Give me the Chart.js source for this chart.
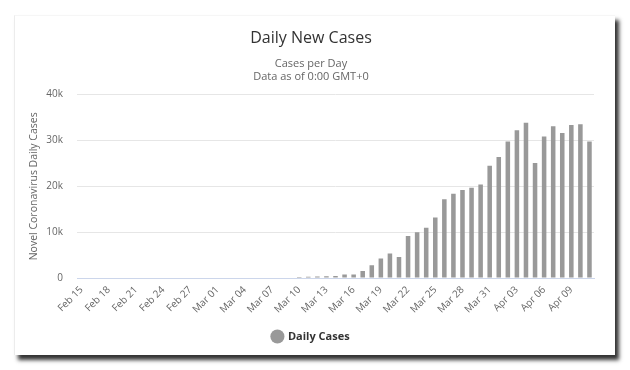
<!DOCTYPE html>
<html>
<head>
<meta charset="utf-8">
<script src="https://cdn.jsdelivr.net/npm/chart.js@4"></script>
<style>
  html, body { margin: 0; padding: 0; background: #fff; width: 630px; height: 370px; overflow: hidden; }
  #frame { position: absolute; left: 14px; top: 15px; width: 600px; height: 339px; background: #fff;
           border-left: 1px solid #ececec; border-top: 1px solid #f6f6f6;
           box-shadow: 4px 5px 4px rgba(0,0,0,0.8); }
  #c { position: absolute; left: 0; top: 0; }
</style>
</head>
<body>
<div id="frame"></div>
<canvas id="c" width="630" height="370"></canvas>
<script>
const categories = [
  "Feb 15","Feb 16","Feb 17","Feb 18","Feb 19","Feb 20","Feb 21","Feb 22","Feb 23","Feb 24",
  "Feb 25","Feb 26","Feb 27","Feb 28","Feb 29",
  "Mar 01","Mar 02","Mar 03","Mar 04","Mar 05","Mar 06","Mar 07","Mar 08","Mar 09","Mar 10",
  "Mar 11","Mar 12","Mar 13","Mar 14","Mar 15","Mar 16","Mar 17","Mar 18","Mar 19","Mar 20",
  "Mar 21","Mar 22","Mar 23","Mar 24","Mar 25","Mar 26","Mar 27","Mar 28","Mar 29","Mar 30",
  "Mar 31","Apr 01","Apr 02","Apr 03","Apr 04","Apr 05","Apr 06","Apr 07","Apr 08","Apr 09",
  "Apr 10","Apr 11"
];
const dailyCases = [
  0,0,0,0,0,0,0,0,0,0,
  0,0,0,0,0,
  0,0,0,0,0,0,0,0,0,200,
  250,300,400,450,750,750,1500,2800,4250,5350,
  4600,9150,10000,10950,13200,17200,18350,19200,19700,20400,
  24500,26400,29750,32200,33850,25100,30850,33100,31650,33350,
  33550,29750
];
const yTicks = [0, 10000, 20000, 30000, 40000];
const yTickLabels = ["0", "10k", "20k", "30k", "40k"];

const FONT = "'Open Sans', 'DejaVu Sans', sans-serif";

new Chart(document.getElementById('c'), {
  type: 'bar',
  data: {
    labels: categories,
    datasets: [{
      label: 'Daily Cases',
      data: dailyCases,
      backgroundColor: '#999999',
      borderWidth: 0,
      barPercentage: 0.5,
      categoryPercentage: 1.0
    }]
  },
  options: {
    responsive: false,
    animation: false,
    devicePixelRatio: 1,
    layout: { padding: { left: 28, right: 36, top: 0, bottom: 18 } },
    plugins: {
      title: {
        display: true,
        text: 'Daily New Cases',
        color: '#333333',
        font: { family: FONT, size: 16, weight: 'normal' },
        padding: { top: 29, bottom: 9 }
      },
      subtitle: {
        display: true,
        text: ['Cases per Day', 'Data as of 0:00 GMT+0'],
        color: '#666666',
        font: { family: FONT, size: 11, weight: 'normal', lineHeight: 1.2 },
        padding: { top: 0, bottom: 11 }
      },
      legend: {
        position: 'bottom',
        labels: {
          usePointStyle: true,
          pointStyle: 'circle',
          boxWidth: 10,
          boxHeight: 10,
          padding: 10,
          color: '#333333',
          font: { family: FONT, size: 11, weight: 'bold' }
        }
      },
      tooltip: { enabled: false }
    },
    scales: {
      x: {
        grid: { display: false, drawTicks: false },
        border: { display: true, color: '#ccd6eb', width: 1 },
        ticks: {
          color: '#666666',
          font: { family: FONT, size: 10 },
          autoSkip: false,
          maxRotation: 45,
          minRotation: 45,
          padding: 6,
          callback: function(v, i) { return i % 3 === 0 ? categories[i] : null; }
        },
        afterFit: function(s) { s.height = 43; }
      },
      y: {
        min: 0,
        max: 40000,
        afterBuildTicks: function(s) { s.ticks = yTicks.map(v => ({ value: v })); },
        grid: { color: '#e6e6e6', drawTicks: false },
        border: { display: false },
        ticks: {
          color: '#666666',
          font: { family: FONT, size: 10 },
          padding: 14,
          callback: function(v) { return yTickLabels[yTicks.indexOf(v)]; }
        },
        title: {
          display: true,
          text: 'Novel Coronavirus Daily Cases',
          color: '#666666',
          font: { family: FONT, size: 10.5 },
          padding: { top: 0, bottom: 0 }
        },
        afterFit: function(s) { s.width = 49; }
      }
    }
  }
});
</script>
</body>
</html>
